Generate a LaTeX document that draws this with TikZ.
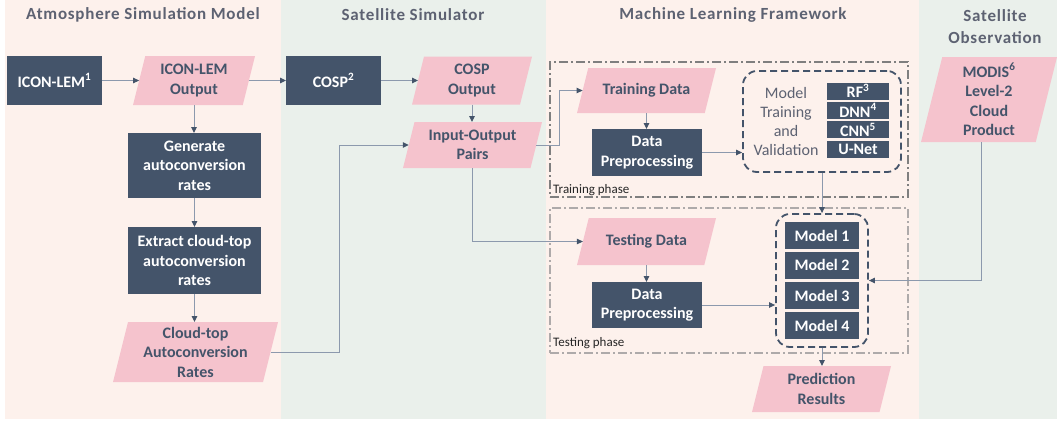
\documentclass[tikz,border=0pt]{standalone}
\usepackage{fontspec}
\setmainfont{Carlito}
\newfontfamily\titlefont[LetterSpace=4.5]{Carlito}
\usetikzlibrary{arrows.meta,calc}
\definecolor{dk}{HTML}{44546A}
\definecolor{pk}{HTML}{F5C3CD}
\definecolor{bgpink}{HTML}{FDF1EC}
\definecolor{bggreen}{HTML}{EAF0EB}
\definecolor{ln}{HTML}{8C99AD}
\definecolor{ttl}{HTML}{5D6272}
\definecolor{phA}{HTML}{7F7F7F}
\definecolor{phB}{HTML}{AEAAAA}
\newcommand\mypgram[6]{%
  \pgfmathsetmacro\pgs{0.25*#5}%
  \pgfmathsetmacro\pgw{#4-\pgs}%
  \fill[pk] ({#2-#4/2+\pgs},{#3-#5/2}) -- ({#2+#4/2},{#3-#5/2}) -- ({#2+#4/2-\pgs},{#3+#5/2}) -- ({#2-#4/2},{#3+#5/2}) -- cycle;
  \node[pgtext, minimum width=\pgw pt, minimum height=#5pt] (#1) at (#2,#3) {#6};
}
\tikzset{
  bodyfont/.style={font=\bfseries\fontsize{16}{19.5}\selectfont},
  dkbox/.style={bodyfont, fill=dk, text=white, align=center, inner sep=0pt, outer sep=0pt},
  pgtext/.style={bodyfont, text=dk, align=center, inner sep=0pt, outer sep=0pt},
  conn/.style={draw=ln, line width=1pt, -{Triangle[length=6pt,width=5.5pt,color=dk]}},
  ttlstyle/.style={font=\titlefont\bfseries\fontsize{17}{22}\selectfont, text=ttl, align=center, inner sep=0pt},
  phaseA/.style={draw=phA, line width=1.2pt, dash pattern=on 9pt off 3pt on 2pt off 3pt, inner sep=0pt},
  phaseB/.style={draw=phB, line width=1.2pt, dash pattern=on 9pt off 3pt on 2pt off 3pt, inner sep=0pt},
  grpbox/.style={draw=dk, line width=1.8pt, dash pattern=on 7pt off 4pt, rounded corners=14pt, inner sep=0pt},
  phlabel/.style={font=\fontsize{13}{15}\selectfont, text=black!85, inner sep=0pt},
  mtlabel/.style={font=\fontsize{16}{19}\selectfont, text=ttl, align=center, inner sep=0pt}
}
\begin{document}
\begin{tikzpicture}[x=1pt,y=-1pt]
\useasboundingbox (0,0) rectangle (1057,421);
% backgrounds
\fill[bgpink] (5,0) rectangle (281,419);
\fill[bggreen] (281,0) rectangle (546,419);
\fill[bgpink] (546,0) rectangle (919,419);
\fill[bggreen] (919,0) rectangle (1057,419);
% titles
\node[ttlstyle] (t1) at (143,15) {Atmosphere Simulation Model};
\node[ttlstyle] (t2) at (413,15) {Satellite Simulator};
\node[ttlstyle] (t3) at (733,15) {Machine Learning Framework};
\node[ttlstyle] (t4) at (995,27) {Satellite\\Observation};
% phase boxes
\node[phaseA, minimum width=358pt, minimum height=135pt] (trainphase) at (729,129.5) {};
\node[phaseB, minimum width=358pt, minimum height=145pt] (testphase) at (729,280.5) {};
\node[phlabel, anchor=base west] (trainlbl) at (553,193) {Training phase};
\node[phlabel, anchor=base west] (testlbl) at (553,346) {Testing phase};
% atmosphere column
\node[dkbox, minimum width=95pt, minimum height=49pt] (icon) at (54.5,80.5) {ICON-LEM\textsuperscript{1}};
\mypgram{iconout}{194}{80.5}{122}{49}{ICON-LEM\\Output}
\node[dkbox, minimum width=133pt, minimum height=65pt] (gen) at (194.5,165.5) {Generate\\autoconversion\\rates};
\node[dkbox, minimum width=133pt, minimum height=67pt] (extract) at (194.5,260.5) {Extract cloud-top\\autoconversion\\rates};
\mypgram{cloudtop}{195.5}{352}{165}{60}{Cloud-top\\Autoconversion\\Rates}
% satellite simulator
\node[dkbox, minimum width=95pt, minimum height=49pt] (cosp) at (333.5,80.5) {COSP\textsuperscript{2}};
\mypgram{cospout}{472}{80.5}{120}{48}{COSP\\Output}
\mypgram{iopairs}{472.5}{145}{139}{46}{Input-Output\\Pairs}
% ML training
\mypgram{traindata}{646.5}{90.5}{139}{45}{Training Data}
\node[dkbox, minimum width=110pt, minimum height=47pt] (dptrain) at (647,152.5) {Data\\Preprocessing};
\node[grpbox, minimum width=158pt, minimum height=101pt] (mtbox) at (822,121.5) {};
\node[mtlabel] (mttext) at (786,121.5) {Model\\Training\\and\\Validation};
\node[dkbox, minimum width=62pt, minimum height=17pt] (rf) at (858,91) {RF\textsuperscript{3}};
\node[dkbox, minimum width=62pt, minimum height=17pt] (dnn) at (858,110.3) {DNN\textsuperscript{4}};
\node[dkbox, minimum width=62pt, minimum height=17pt] (cnn) at (858,129.6) {CNN\textsuperscript{5}};
\node[dkbox, minimum width=62pt, minimum height=17pt] (unet) at (858,149) {U-Net};
% ML testing
\mypgram{testdata}{646.5}{241.5}{139}{47}{Testing Data}
\node[dkbox, minimum width=110pt, minimum height=46pt] (dptest) at (647,305) {Data\\Preprocessing};
\node[grpbox, minimum width=92pt, minimum height=133pt] (modelsbox) at (822,280.5) {};
\node[dkbox, minimum width=74pt, minimum height=27pt] (m1) at (822,235.5) {Model 1};
\node[dkbox, minimum width=74pt, minimum height=27pt] (m2) at (822,265.3) {Model 2};
\node[dkbox, minimum width=74pt, minimum height=27pt] (m3) at (822,295.6) {Model 3};
\node[dkbox, minimum width=74pt, minimum height=27pt] (m4) at (822,325.5) {Model 4};
\mypgram{prediction}{821.5}{389}{139}{46}{Prediction\\Results}
% observation
\mypgram{modis}{989}{99.5}{136}{85}{MODIS\textsuperscript{6}\\Level-2\\Cloud\\Product}
% connectors
\coordinate (jx1) at (339,0);
\coordinate (jx2) at (559,0);
\coordinate (jx3) at (981,0);
\draw[conn] (icon.east) -- (iconout.west);
\draw[conn] (iconout.east) -- (cosp.west);
\draw[conn] (cosp.east) -- (cospout.west);
\draw[conn] (iconout.south) -- (iconout.south |- gen.north);
\draw[conn] (gen.south) -- (extract.north);
\draw[conn] (extract.south) -- (extract.south |- cloudtop.north);
\draw[conn] (cloudtop.east) -- (cloudtop.east -| jx1) |- (iopairs.west);
\draw[conn] (cospout.south) -- (cospout.south |- iopairs.north);
\draw[conn] (iopairs.east) -- (iopairs.east -| jx2) |- (traindata.west);
\draw[conn] (iopairs.south) |- (testdata.west);
\draw[conn] (traindata.south) -- (traindata.south |- dptrain.north);
\draw[conn] (dptrain.east) -- (dptrain.east -| mtbox.west);
\draw[conn] (mtbox.south) -- (mtbox.south |- modelsbox.north);
\draw[conn] (testdata.south) -- (testdata.south |- dptest.north);
\draw[conn] (dptest.east) -- (dptest.east -| modelsbox.west);
\draw[conn] (modelsbox.south) -- (modelsbox.south |- prediction.north);
\draw[conn] (modis.south -| jx3) |- (modelsbox.east);
\end{tikzpicture}
\end{document}
